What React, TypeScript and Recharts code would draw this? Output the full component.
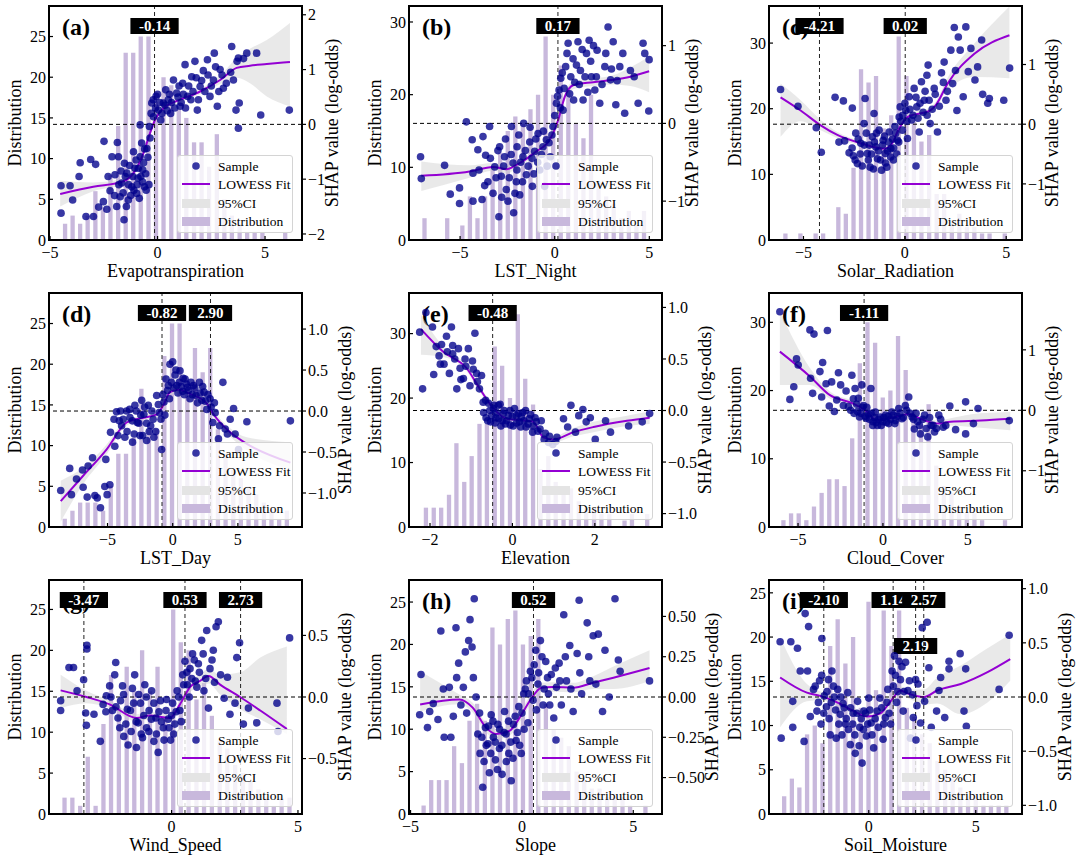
import React from 'react';
import { ComposedChart, Bar, Scatter, Line, Area, XAxis, YAxis, ReferenceLine } from 'recharts';

const FONT = '"Liberation Serif", "Times New Roman", serif';
const BAR = '#c8b8dc';
const DOT = '#00008B';
const FIT = '#9400D3';

// (a) Evapotranspiration
const aBins = [-4.32, -3.97, -3.62, -3.27, -2.91, -2.56, -2.21, -1.85, -1.5, -1.15, -0.8, -0.44, -0.09, 0.26, 0.62, 0.97, 1.32, 1.68, 2.03, 2.38, 2.74, 3.09, 3.44, 3.8, 4.15, 4.5, 4.86, 5.21, 5.56, 5.92];
const aCounts = [2, 3, 2, 3, 6, 4, 8, 14, 23, 23, 25, 25, 17, 20, 19, 16, 15, 12, 12, 9, 13, 5, 3, 2, 1, 1, 1, 0, 0, 1];
const aFit = [[-4.53, -1.27, -1.5, -1.03], [-2.99, -1.14, -1.22, -1.06], [-1.59, -1.04, -1.09, -0.99], [-1.12, -0.89, -0.94, -0.84], [-0.66, -0.53, -0.58, -0.48], [-0.35, -0.16, -0.21, -0.11], [-0.12, 0.08, 0.03, 0.13], [0.27, 0.29, 0.25, 0.33], [1.05, 0.45, 0.41, 0.49], [1.98, 0.6, 0.55, 0.65], [2.91, 0.81, 0.73, 0.89], [3.68, 1.03, 0.85, 1.21], [4.3, 1.07, 0.75, 1.38], [5.08, 1.1, 0.51, 1.54], [6.16, 1.14, 0.33, 1.85]];
const aSample = [[-4.49, -1.62], [-4.49, -1.12], [-4.07, -1.12], [-3.95, -1.38], [-3.65, -0.95], [-3.6, -0.7], [-3.33, -1.68], [-3.11, -0.64], [-2.88, -0.73], [-2.98, -1.68], [-2.74, -1.51], [-2.52, -1.41], [-2.36, -1.55], [-2.21, -1.21], [-2.49, -0.31], [-2.12, -0.59], [-1.87, -0.33], [-1.82, -0.59], [-1.98, -0.92], [-1.9, -1.5], [-1.74, -1.32], [-1.67, -1.07], [-1.54, -0.71], [-1.43, -0.89], [-1.36, -1.38], [-1.56, -1.74], [-1.2, -1.14], [-1.12, -0.5], [-1.05, -0.8], [-0.97, -1.26], [-0.91, -0.98], [-0.81, -0.59], [-0.74, -0.34], [-0.69, -0.83], [-0.61, -1.14], [-0.53, -1.2], [-0.81, -0.01], [-0.5, -0.44], [-0.38, -0.04], [-0.27, 0.39], [-0.19, 0.14], [-0.07, 0.51], [0.04, 0.26], [0.15, 0.08], [0.27, 0.39], [0.38, 0.63], [0.5, 0.45], [0.61, 0.2], [0.74, 0.81], [0.89, 0.57], [1.05, 0.33], [1.17, 0.75], [1.28, 1.09], [1.4, 0.51], [1.59, 0.87], [1.74, 1.15], [1.85, 0.26], [1.98, 0.69], [2.13, 0.98], [2.32, 1.18], [2.44, 0.51], [2.6, 0.81], [2.64, 1.3], [2.78, 0.33], [2.91, 1.0], [3.06, 0.66], [3.45, 1.42], [3.53, 0.81], [3.65, 0.26], [3.76, -0.07], [3.76, 1.21], [4.15, 1.3], [3.8, 0.39], [4.61, 1.3], [4.8, 0.17], [6.13, 0.26],
  [-2.3, -0.95], [-2.0, -1.3], [-1.8, -1.1], [-1.7, -0.85], [-1.6, -1.25], [-1.5, -0.95], [-1.45, -1.5], [-1.35, -1.1], [-1.3, -0.75], [-1.25, -1.3], [-1.15, -0.95], [-1.1, -1.2], [-1.0, -0.65], [-0.95, -1.1], [-0.9, -0.8], [-0.85, -1.35], [-0.78, -0.95], [-0.7, -1.05], [-0.65, -0.7], [-0.6, -0.45], [-0.55, -0.9], [-0.45, -0.6], [-0.4, -1.1], [-0.35, -0.25], [-0.3, 0.2], [-0.2, 0.45], [-0.1, 0.3], [0.0, 0.55], [0.1, 0.4], [0.2, 0.2], [0.35, 0.35], [0.45, 0.25], [0.55, 0.55], [0.65, 0.4], [0.8, 0.3], [0.95, 0.5], [1.0, 0.7], [1.1, 0.4], [1.2, 0.55], [1.3, 0.3], [1.45, 0.7], [1.55, 0.45], [1.65, 0.6], [1.8, 0.85], [1.9, 0.45], [2.05, 0.8], [2.2, 0.6], [2.35, 0.9], [2.5, 0.7], [2.7, 1.05], [2.85, 0.6], [3.0, 0.9], [3.2, 0.75], [3.4, 0.95], [3.7, 1.15], [4.0, 1.2]];

// (b) LST_Night
const bBins = [-6.9, -6.5, -6.1, -5.7, -5.3, -4.9, -4.5, -4.1, -3.7, -3.3, -2.9, -2.5, -2.1, -1.7, -1.3, -0.9, -0.5, -0.1, 0.3, 0.7, 1.1, 1.5, 1.9, 2.3, 2.7, 3.1, 3.5, 3.9, 4.3, 4.7];
const bCounts = [3, 0, 0, 3, 0, 2, 6, 3, 6, 10, 12, 15, 17, 16, 18, 20, 28, 20, 24, 21, 16, 14, 20, 8, 6, 5, 3, 4, 2, 4];
const bFit = [[-7.05, -0.675, -0.87, -0.49], [-4.5, -0.62, -0.7, -0.54], [-3.26, -0.56, -0.61, -0.51], [-2.56, -0.59, -0.64, -0.54], [-1.85, -0.51, -0.55, -0.47], [-0.97, -0.36, -0.4, -0.32], [-0.26, -0.21, -0.26, -0.16], [0.18, 0.04, -0.01, 0.09], [0.53, 0.34, 0.29, 0.39], [0.97, 0.49, 0.44, 0.54], [2.03, 0.53, 0.48, 0.58], [3.09, 0.56, 0.5, 0.62], [4.0, 0.6, 0.48, 0.72], [4.99, 0.67, 0.4, 0.86]];
const bSample = [[-7.09, -0.43], [-7.05, -0.71], [-5.82, -0.54], [-5.52, -0.91], [-5.03, -0.83], [-5.03, -1.03], [-4.67, 0.02], [-4.36, -0.21], [-4.32, -0.64], [-4.32, -1.0], [-4.06, -0.34], [-3.79, -0.17], [-3.84, -0.98], [-3.65, -0.41], [-3.53, -0.75], [-3.44, -0.04], [-3.26, -0.9], [-3.17, -0.56], [-2.95, -1.2], [-2.91, -0.3], [-2.82, -0.68], [-2.65, -0.43], [-2.56, -0.85], [-2.47, -1.0], [-2.29, -0.04], [-2.2, -0.51], [-2.17, -1.15], [-2.03, -0.75], [-1.99, -0.3], [-1.85, -0.92], [-1.68, -0.43], [-1.64, 0.0], [-1.5, -0.66], [-1.32, -0.24], [-1.18, -0.81], [-1.06, -0.36], [-0.88, -0.13], [-0.79, -0.6], [-0.62, -0.3], [-0.53, -0.81], [-0.44, -0.21], [-0.23, -0.43], [-0.09, -0.04], [0.09, 0.26], [0.23, 0.43], [0.32, 0.58], [0.44, 0.17], [0.58, 0.73], [0.71, 1.03], [0.79, 0.38], [0.97, 0.83], [1.06, 0.53], [1.23, 1.05], [1.36, 0.68], [1.5, 0.3], [1.68, 0.9], [1.82, 1.07], [1.94, 0.6], [2.12, 0.43], [2.24, 0.94], [2.38, 0.26], [2.65, 0.73], [2.82, 1.24], [2.95, 0.56], [3.09, 1.05], [3.23, 0.24], [3.44, 0.73], [3.7, 0.13], [4.0, 0.68], [4.41, 0.26], [4.67, 1.03], [4.76, 0.9], [4.97, 0.16], [4.99, 0.82],
  [-4.0, -0.6], [-3.7, -0.8], [-3.4, -0.45], [-3.1, -0.7], [-3.0, -0.35], [-2.8, -0.95], [-2.7, -0.55], [-2.6, -0.2], [-2.4, -0.7], [-2.3, -0.4], [-2.1, -0.9], [-2.0, -0.6], [-1.9, -0.15], [-1.8, -0.5], [-1.7, -0.75], [-1.55, -0.35], [-1.4, -0.55], [-1.3, -0.05], [-1.2, -0.45], [-1.1, -0.65], [-1.0, -0.2], [-0.9, -0.5], [-0.7, -0.4], [-0.6, -0.1], [-0.4, -0.55], [-0.3, -0.25], [-0.15, -0.15], [0.0, 0.1], [0.15, 0.35], [0.3, 0.2], [0.4, 0.65], [0.5, 0.45], [0.65, 0.9], [0.85, 0.6], [1.0, 0.3], [1.15, 0.75], [1.3, 0.5], [1.45, 0.95], [1.6, 0.6], [1.75, 0.4], [1.9, 0.8], [2.05, 1.0], [2.2, 0.6], [2.5, 0.5], [2.7, 0.9], [3.0, 0.7], [3.3, 0.55], [3.6, 0.9], [4.2, 0.6]];

// (c) Solar_Radiation
const cBins = [-5.91, -5.54, -5.17, -4.79, -4.42, -4.05, -3.67, -3.3, -2.93, -2.55, -2.18, -1.81, -1.44, -1.06, -0.69, -0.32, 0.06, 0.43, 0.8, 1.18, 1.55, 1.92, 2.3, 2.67, 3.04, 3.41, 3.79, 4.16, 4.53, 4.91];
const cCounts = [1, 0, 1, 0, 1, 1, 0, 5, 4, 11, 26, 24, 25, 17, 19, 31, 25, 18, 15, 16, 7, 7, 3, 4, 2, 2, 1, 1, 0, 1];
const cFit = [[-6.13, 0.45, -0.21, 0.68], [-5.14, 0.23, 0.05, 0.4], [-4.15, -0.02, -0.1, 0.07], [-3.33, -0.18, -0.23, -0.13], [-2.17, -0.32, -0.36, -0.28], [-1.02, -0.41, -0.45, -0.37], [-0.69, -0.35, -0.39, -0.31], [-0.28, -0.07, -0.12, -0.02], [0.13, 0.12, 0.07, 0.17], [1.25, 0.23, 0.18, 0.28], [1.53, 0.32, 0.26, 0.38], [2.11, 0.68, 0.58, 0.78], [3.43, 1.18, 0.79, 1.35], [5.16, 1.49, 0.77, 1.97]];
const cSample = [[-6.13, 0.58], [-5.27, 0.3], [-4.37, -0.06], [-4.12, -0.47], [-3.44, 0.45], [-3.25, -0.3], [-3.03, 0.39], [-2.97, -0.28], [-2.75, -0.48], [-2.59, 0.27], [-2.54, -0.53], [-2.42, -0.15], [-2.34, -0.66], [-2.17, -0.32], [-2.01, 0.01], [-1.96, 0.43], [-1.85, -0.49], [-1.71, -0.72], [-1.6, -0.21], [-1.52, 0.18], [-1.43, -0.38], [-1.35, -0.58], [-1.27, -0.1], [-1.15, -0.77], [-1.07, -0.27], [-0.97, -0.49], [-0.89, -0.72], [-0.77, -0.13], [-0.69, -0.41], [-0.56, -0.6], [-0.49, -0.04], [-0.36, -0.27], [-0.28, 0.12], [-0.23, 0.29], [-0.12, -0.1], [0.05, 0.23], [0.13, -0.24], [0.21, 0.46], [0.33, 0.07], [0.46, 0.6], [0.59, 0.29], [0.71, -0.13], [0.82, 0.71], [0.96, 0.4], [1.09, 0.82], [1.15, 0.99], [1.25, 0.01], [1.45, 0.6], [1.61, -0.13], [1.81, 0.86], [1.94, 1.04], [2.03, 0.4], [2.27, 1.24], [2.36, 0.68], [2.44, 1.62], [2.57, 0.23], [2.64, 1.46], [2.73, 1.24], [2.88, 0.46], [3.01, 1.63], [3.13, 0.88], [3.26, 1.27], [3.46, 0.74], [3.59, 0.96], [3.79, 1.41], [3.84, 0.5], [4.09, 0.35], [4.17, 0.43], [4.88, 0.4], [5.17, 0.94],
  [-2.6, -0.4], [-2.45, -0.6], [-2.3, -0.25], [-2.2, -0.5], [-2.1, -0.7], [-2.0, -0.35], [-1.9, -0.15], [-1.8, -0.6], [-1.75, -0.35], [-1.65, -0.5], [-1.55, -0.75], [-1.5, -0.3], [-1.4, -0.15], [-1.3, -0.45], [-1.2, -0.6], [-1.1, -0.35], [-1.0, -0.2], [-0.95, -0.65], [-0.85, -0.45], [-0.8, -0.3], [-0.7, -0.55], [-0.6, -0.25], [-0.55, -0.4], [-0.45, -0.15], [-0.4, -0.5], [-0.3, -0.3], [-0.2, 0.05], [-0.1, 0.15], [0.0, 0.35], [0.1, 0.05], [0.25, 0.25], [0.4, 0.15], [0.55, 0.45], [0.65, 0.1], [0.75, 0.35], [0.9, 0.2], [1.0, 0.55], [1.1, 0.15], [1.2, 0.4], [1.35, 0.25], [1.5, 0.5], [1.7, 0.3], [1.9, 0.7], [2.1, 0.55], [2.5, 0.9]];

// (d) LST_Day
const dBins = [-8.31, -7.72, -7.13, -6.55, -5.96, -5.37, -4.78, -4.2, -3.61, -3.02, -2.43, -1.85, -1.26, -0.67, -0.08, 0.5, 1.09, 1.68, 2.27, 2.85, 3.44, 4.03, 4.62, 5.2, 5.79, 6.38, 6.97, 7.55, 8.14, 8.73];
const dCounts = [1, 2, 3, 3, 3, 2, 5, 9, 9, 11, 17, 12, 12, 21, 25, 25, 17, 22, 19, 22, 12, 9, 7, 6, 5, 4, 3, 2, 1, 2];
const dFit = [[-8.59, -1.1, -1.35, -0.85], [-6.87, -0.79, -0.89, -0.69], [-5.08, -0.47, -0.53, -0.41], [-3.54, -0.14, -0.18, -0.1], [-2.51, -0.09, -0.12, -0.06], [-1.23, -0.04, -0.07, -0.01], [-0.72, 0.07, 0.04, 0.1], [-0.21, 0.23, 0.2, 0.26], [0.44, 0.26, 0.23, 0.29], [1.33, 0.21, 0.18, 0.24], [2.62, 0.09, 0.06, 0.12], [3.13, -0.04, -0.08, 0.0], [4.41, -0.26, -0.31, -0.21], [5.69, -0.4, -0.48, -0.32], [9.03, -0.63, -0.72, -0.38]];
const dSample = [[-8.59, -0.97], [-7.9, -0.7], [-7.77, -1.02], [-7.38, -0.83], [-6.92, -0.72], [-6.87, -0.93], [-6.56, -1.05], [-6.49, -0.67], [-6.15, -0.57], [-5.97, -1.03], [-5.79, -1.06], [-5.54, -1.18], [-5.21, -0.92], [-5.13, -0.59], [-5.03, -1.02], [-4.82, -0.9], [-4.77, -0.26], [-4.44, -0.43], [-4.31, -0.01], [-4.1, -0.12], [-3.92, -0.18], [-3.67, -0.32], [-3.54, 0.0], [-3.28, -0.08], [-3.08, -0.38], [-2.9, 0.07], [-2.72, -0.14], [-2.51, -0.3], [-2.38, 0.13], [-2.21, -0.04], [-2.0, -0.36], [-1.87, 0.07], [-1.69, -0.18], [-1.44, -0.32], [-1.23, 0.19], [-1.03, -0.02], [-0.85, -0.47], [-0.67, 0.11], [-0.51, 0.39], [-0.33, 0.31], [-0.21, 0.57], [0.0, 0.6], [0.18, 0.44], [0.31, 0.31], [0.56, 0.49], [0.77, 0.24], [0.95, 0.39], [1.13, 0.29], [1.33, 0.15], [1.59, 0.31], [1.79, 0.19], [2.05, 0.35], [2.23, 0.13], [2.41, 0.23], [2.62, 0.02], [2.87, 0.15], [3.08, -0.14], [3.26, -0.02], [3.51, -0.34], [3.85, 0.35], [4.03, -0.22], [4.41, -0.1], [4.67, 0.03], [4.79, -0.28], [5.05, -0.47], [5.69, -0.13], [9.03, -0.12],
  [-4.5, -0.1], [-4.2, -0.3], [-4.0, 0.0], [-3.8, -0.1], [-3.5, -0.25], [-3.3, 0.02], [-3.1, -0.12], [-2.95, -0.28], [-2.8, 0.0], [-2.6, -0.15], [-2.45, -0.05], [-2.3, -0.3], [-2.15, 0.05], [-2.0, -0.15], [-1.8, -0.25], [-1.6, 0.0], [-1.5, -0.1], [-1.3, -0.25], [-1.1, 0.08], [-0.9, -0.1], [-0.75, 0.2], [-0.6, -0.05], [-0.4, 0.25], [-0.25, 0.15], [-0.1, 0.35], [0.1, 0.28], [0.25, 0.5], [0.4, 0.22], [0.5, 0.35], [0.65, 0.3], [0.8, 0.4], [0.9, 0.2], [1.05, 0.33], [1.2, 0.25], [1.4, 0.35], [1.5, 0.2], [1.7, 0.28], [1.9, 0.1], [2.1, 0.22], [2.3, 0.3], [2.5, 0.12], [2.7, 0.2], [2.95, 0.05], [3.2, 0.1], [3.6, -0.18], [4.2, -0.28]];

// (e) Elevation
const eBins = [-2.11, -1.92, -1.74, -1.55, -1.37, -1.18, -1.0, -0.81, -0.63, -0.44, -0.26, -0.07, 0.12, 0.3, 0.49, 0.67, 0.86, 1.04, 1.23, 1.41, 1.6, 1.78, 1.97, 2.15, 2.34, 2.52, 2.71, 2.89, 3.08, 3.26];
const eCounts = [3, 3, 3, 5, 13, 7, 11, 16, 16, 28, 25, 20, 33, 23, 19, 9, 11, 7, 5, 6, 4, 3, 3, 2, 2, 0, 1, 2, 0, 2];
const eFit = [[-2.22, 0.79, 0.54, 0.93], [-1.68, 0.57, 0.52, 0.62], [-1.11, 0.41, 0.38, 0.44], [-0.79, 0.21, 0.18, 0.24], [-0.46, 0.02, 0.0, 0.04], [-0.14, -0.08, -0.1, -0.06], [0.35, -0.1, -0.12, -0.08], [0.51, -0.11, -0.13, -0.09], [0.75, -0.26, -0.29, -0.23], [1.0, -0.28, -0.31, -0.25], [1.48, -0.21, -0.25, -0.17], [1.97, -0.16, -0.21, -0.11], [2.78, -0.1, -0.15, -0.05], [3.33, -0.07, -0.13, -0.01]];
const eSample = [[-2.25, 0.76], [-2.18, 0.21], [-2.1, 0.95], [-1.94, 0.81], [-1.91, 0.35], [-1.78, 0.53], [-1.72, 0.64], [-1.66, 0.45], [-1.58, 0.57], [-1.53, 0.36], [-1.48, 0.81], [-1.45, 0.63], [-1.4, 0.5], [-1.35, 0.21], [-1.31, 0.6], [-1.27, 0.41], [-1.19, 0.31], [-1.13, 0.43], [-1.07, 0.6], [-1.03, 0.24], [-0.97, 0.48], [-0.91, 0.75], [-0.87, 0.36], [-0.8, 0.21], [-0.75, 0.34], [-0.71, 0.08], [-0.64, -0.07], [-0.58, 0.07], [-0.53, -0.11], [-0.46, 0.02], [-0.4, -0.07], [-0.34, 0.05], [-0.28, -0.15], [-0.22, -0.03], [-0.14, -0.1], [-0.06, 0.0], [0.02, -0.15], [0.09, -0.05], [0.17, -0.11], [0.25, -0.02], [0.33, -0.16], [0.41, -0.08], [0.49, -0.21], [0.58, -0.11], [0.67, -0.18], [0.77, -0.28], [0.88, -0.31], [0.98, -0.33], [1.08, -0.26], [1.24, -0.08], [1.34, -0.16], [1.42, 0.05], [1.53, -0.21], [1.61, -0.05], [1.71, 0.01], [1.79, -0.11], [1.89, -0.07], [2.01, -0.28], [2.26, -0.1], [2.38, -0.21], [2.82, -0.15], [3.15, -0.11], [3.33, -0.03],
  [-0.7, -0.02], [-0.65, 0.1], [-0.6, -0.1], [-0.55, 0.0], [-0.5, -0.05], [-0.45, 0.05], [-0.42, -0.12], [-0.38, -0.02], [-0.33, -0.08], [-0.3, 0.06], [-0.25, -0.1], [-0.2, 0.0], [-0.17, -0.13], [-0.1, -0.05], [-0.05, -0.14], [0.0, -0.06], [0.05, 0.02], [0.1, -0.12], [0.15, -0.03], [0.2, -0.16], [0.22, -0.06], [0.28, -0.1], [0.32, 0.0], [0.38, -0.13], [0.44, -0.04], [0.5, -0.15], [0.55, -0.07], [0.62, -0.2], [0.7, -0.1], [0.8, -0.22], [0.9, -0.25], [1.05, -0.3], [-0.85, 0.28], [-0.95, 0.4], [-1.15, 0.5], [-1.25, 0.3], [-1.45, 0.55], [-1.6, 0.72], [-1.75, 0.45], [-1.85, 0.62]];

// (f) Cloud_Cover
const fBins = [-5.88, -5.43, -4.98, -4.53, -4.08, -3.63, -3.18, -2.73, -2.28, -1.83, -1.38, -0.93, -0.48, -0.03, 0.42, 0.87, 1.32, 1.77, 2.22, 2.67, 3.12, 3.57, 4.02, 4.47, 4.92, 5.37, 5.82, 6.27, 6.72, 7.17];
const fCounts = [1, 2, 2, 1, 3, 5, 7, 7, 6, 13, 24, 30, 27, 19, 20, 28, 23, 17, 15, 18, 9, 6, 5, 3, 2, 2, 1, 0, 0, 1];
const fFit = [[-6.07, 0.97, 0.42, 1.64], [-4.3, 0.56, 0.42, 0.7], [-3.12, 0.25, 0.19, 0.31], [-1.74, 0.11, 0.07, 0.15], [-0.95, -0.02, -0.05, 0.01], [-0.36, -0.17, -0.2, -0.14], [0.24, -0.14, -0.17, -0.11], [1.03, -0.09, -0.12, -0.06], [1.52, -0.06, -0.09, -0.03], [2.21, -0.14, -0.18, -0.1], [3.2, -0.22, -0.27, -0.17], [3.98, -0.19, -0.25, -0.13], [5.76, -0.17, -0.29, -0.05], [7.5, -0.14, -0.33, -0.03]];
const fSample = [[-6.07, 1.63], [-5.48, 0.18], [-5.25, 0.39], [-5.09, 0.85], [-4.99, 0.75], [-4.26, 0.53], [-4.14, 0.28], [-4.06, 1.26], [-4.3, 1.33], [-3.71, 0.64], [-3.61, 0.22], [-3.55, 0.79], [-3.35, 0.44], [-3.27, 1.32], [-3.16, 0.07], [-3.02, 0.47], [-2.86, -0.02], [-2.72, 0.17], [-2.62, 0.62], [-2.49, 0.42], [-2.33, 0.08], [-2.17, 0.32], [-2.03, 0.06], [-1.83, 0.58], [-1.74, 0.19], [-1.64, 0.36], [-1.5, -0.02], [-1.38, -0.11], [-1.24, 0.42], [-1.14, 0.08], [-0.99, -0.13], [-0.85, -0.06], [-0.71, 0.36], [-0.59, -0.19], [-0.45, -0.03], [-0.32, -0.25], [-0.16, -0.11], [0.0, -0.19], [0.16, -0.08], [0.34, -0.22], [0.53, -0.03], [0.73, -0.17], [0.93, 0.03], [1.12, -0.14], [1.32, 0.08], [1.52, 0.22], [1.72, -0.11], [1.85, -0.31], [2.05, -0.19], [2.21, -0.39], [2.45, -0.08], [2.64, -0.44], [2.84, -0.25], [3.04, -0.36], [3.29, -0.08], [3.55, -0.28], [3.94, 0.07], [4.28, -0.32], [4.87, -0.39], [4.87, 0.14], [5.33, -0.22], [5.6, 0.03], [7.44, -0.17],
  [-1.9, 0.0], [-1.7, -0.05], [-1.55, 0.1], [-1.45, 0.2], [-1.3, -0.05], [-1.2, 0.05], [-1.05, -0.1], [-0.95, 0.05], [-0.8, -0.15], [-0.7, -0.05], [-0.6, -0.25], [-0.5, -0.12], [-0.4, -0.2], [-0.25, -0.15], [-0.1, -0.25], [0.05, -0.12], [0.2, -0.2], [0.3, -0.1], [0.45, -0.15], [0.6, -0.08], [0.7, -0.22], [0.85, -0.1], [1.0, -0.05], [1.2, -0.12], [1.4, 0.0], [1.6, -0.05], [1.8, -0.15], [1.95, -0.05], [2.15, -0.25], [2.35, -0.15], [2.55, -0.3], [2.75, -0.12], [2.95, -0.25], [3.15, -0.3], [3.4, -0.15], [3.7, -0.25]];

// (g) Wind_Speed
const gBins = [-4.25, -3.94, -3.63, -3.33, -3.02, -2.71, -2.41, -2.1, -1.79, -1.49, -1.18, -0.87, -0.57, -0.26, 0.05, 0.35, 0.66, 0.97, 1.27, 1.58, 1.89, 2.19, 2.5, 2.81, 3.11, 3.42, 3.73, 4.03, 4.34, 4.65];
const gCounts = [2, 2, 1, 7, 1, 11, 17, 13, 18, 15, 20, 15, 18, 12, 25, 21, 20, 14, 16, 12, 9, 8, 6, 5, 4, 3, 2, 1, 2, 2];
const gFit = [[-4.39, 0.054, -0.09, 0.18], [-3.37, 0.0, -0.05, 0.05], [-2.45, -0.06, -0.09, -0.03], [-1.39, -0.17, -0.2, -0.14], [-0.86, -0.15, -0.18, -0.12], [-0.07, -0.17, -0.2, -0.14], [0.33, -0.06, -0.09, -0.03], [0.73, 0.08, 0.04, 0.12], [1.12, 0.13, 0.08, 0.18], [1.46, 0.17, 0.11, 0.23], [1.92, 0.1, 0.02, 0.18], [2.71, 0.0, -0.1, 0.2], [3.51, -0.11, -0.18, 0.32], [4.56, -0.26, -0.3, 0.41]];
const gSample = [[-4.39, -0.03], [-4.39, -0.11], [-4.06, 0.24], [-3.88, 0.24], [-3.74, 0.05], [-3.48, 0.14], [-3.35, 0.42], [-3.35, 0.39], [-3.4, -0.13], [-3.37, -0.23], [-3.07, -0.14], [-2.82, -0.36], [-2.71, -0.06], [-2.58, 0.01], [-2.45, 0.09], [-2.34, -0.11], [-2.25, 0.18], [-2.21, 0.28], [-2.12, -0.17], [-2.02, -0.03], [-1.94, 0.09], [-1.89, -0.32], [-1.81, -0.22], [-1.72, -0.39], [-1.63, -0.11], [-1.55, 0.07], [-1.46, 0.18], [-1.39, -0.41], [-1.32, -0.21], [-1.23, -0.05], [-1.15, -0.33], [-1.06, 0.1], [-0.99, -0.25], [-0.89, -0.11], [-0.79, 0.05], [-0.7, -0.36], [-0.62, -0.17], [-0.53, -0.45], [-0.44, -0.03], [-0.33, -0.25], [-0.22, -0.11], [-0.13, -0.18], [-0.04, -0.35], [0.04, -0.05], [0.13, -0.22], [0.22, 0.05], [0.33, -0.11], [0.44, 0.18], [0.53, 0.29], [0.62, 0.1], [0.73, 0.23], [0.83, 0.35], [0.94, 0.13], [1.06, 0.27], [1.19, 0.46], [1.28, 0.05], [1.39, 0.54], [1.46, -0.09], [1.52, 0.23], [1.65, 0.38], [1.76, 0.57], [1.85, 0.61], [1.94, 0.18], [2.08, -0.01], [2.21, 0.16], [2.31, -0.14], [2.51, -0.05], [2.58, 0.32], [2.69, 0.44], [2.84, -0.22], [3.04, -0.09], [3.37, -0.21], [4.17, -0.05], [4.21, -0.28], [4.67, 0.48],
  [-2.6, -0.12], [-2.4, 0.0], [-2.2, -0.08], [-2.05, -0.25], [-1.9, 0.02], [-1.75, -0.1], [-1.6, -0.28], [-1.5, -0.05], [-1.4, -0.2], [-1.3, 0.02], [-1.2, -0.3], [-1.1, -0.15], [-1.0, 0.0], [-0.9, -0.28], [-0.8, -0.18], [-0.7, -0.05], [-0.6, -0.3], [-0.5, -0.12], [-0.4, -0.2], [-0.3, -0.35], [-0.2, -0.02], [-0.1, -0.25], [0.0, -0.15], [0.08, -0.3], [0.18, -0.12], [0.28, 0.0], [0.38, -0.2], [0.48, 0.1], [0.6, 0.2], [0.7, 0.0], [0.8, 0.15], [0.9, 0.3], [1.0, 0.08], [1.1, 0.2], [1.25, 0.35], [1.35, 0.15], [1.6, 0.3], [1.7, 0.12]];

// (h) Slope
const hBins = [-4.43, -4.09, -3.74, -3.4, -3.06, -2.71, -2.37, -2.03, -1.68, -1.34, -1.0, -0.65, -0.31, 0.03, 0.38, 0.72, 1.06, 1.41, 1.75, 2.09, 2.44, 2.78, 3.12, 3.47, 3.81, 4.15, 4.5, 4.84, 5.18, 5.53];
const hCounts = [1, 4, 4, 4, 8, 6, 11, 13, 11, 22, 20, 23, 24, 20, 21, 23, 13, 10, 9, 8, 5, 4, 3, 3, 2, 2, 2, 1, 0, 1];
const hFit = [[-4.57, -0.046, -0.09, 0.16], [-2.81, -0.015, -0.045, 0.015], [-2.21, -0.066, -0.096, -0.036], [-1.61, -0.19, -0.22, -0.16], [-1.16, -0.23, -0.26, -0.2], [-0.56, -0.21, -0.24, -0.18], [-0.11, -0.13, -0.16, -0.1], [0.35, -0.025, -0.055, 0.005], [0.87, 0.058, 0.028, 0.088], [1.4, 0.062, 0.032, 0.092], [2.3, 0.058, 0.028, 0.088], [3.2, 0.089, 0.049, 0.129], [4.11, 0.12, 0.05, 0.19], [5.73, 0.18, 0.1, 0.29]];
const hSample = [[-4.59, -0.11], [-4.53, 0.14], [-4.24, -0.19], [-4.14, -0.09], [-3.98, -0.04], [-3.77, -0.14], [-3.64, 0.41], [-3.53, 0.05], [-3.49, -0.25], [-3.26, 0.06], [-3.19, -0.25], [-3.08, -0.12], [-2.96, 0.43], [-2.93, 0.12], [-2.84, 0.21], [-2.74, -0.05], [-2.63, 0.06], [-2.54, 0.28], [-2.48, -0.1], [-2.39, 0.35], [-2.33, 0.48], [-2.24, 0.31], [-2.18, 0.12], [-2.14, 0.61], [-2.06, 0.0], [-1.98, -0.23], [-1.88, -0.35], [-1.76, -0.56], [-1.64, -0.19], [-1.53, -0.29], [-1.46, -0.47], [-1.38, -0.11], [-1.28, -0.25], [-1.19, -0.39], [-1.08, -0.17], [-1.01, -0.32], [-0.89, -0.48], [-0.78, -0.09], [-0.71, -0.23], [-0.59, -0.35], [-0.48, -0.52], [-0.38, -0.17], [-0.26, -0.27], [-0.14, -0.06], [-0.03, -0.35], [0.08, 0.02], [0.2, 0.1], [0.27, -0.16], [0.38, 0.16], [0.5, -0.02], [0.62, 0.29], [0.72, 0.08], [0.83, 0.35], [0.95, -0.05], [1.07, 0.22], [1.19, 0.02], [1.32, 0.14], [1.43, -0.13], [1.55, 0.06], [1.67, 0.21], [1.77, -0.05], [1.88, 0.51], [2.0, 0.1], [2.15, 0.32], [2.3, -0.09], [2.48, 0.27], [2.57, 0.6], [2.68, 0.02], [2.93, 0.46], [3.05, 0.1], [3.2, 0.38], [3.32, 0.08], [3.43, 0.39], [3.62, -0.09], [3.73, 0.29], [3.92, 0.0], [4.18, 0.61], [4.33, 0.23], [4.41, 0.16], [5.73, 0.1],
  [-1.9, -0.1], [-1.8, -0.25], [-1.7, -0.4], [-1.6, -0.3], [-1.5, -0.18], [-1.4, -0.35], [-1.3, -0.15], [-1.2, -0.28], [-1.1, -0.45], [-1.0, -0.2], [-0.9, -0.3], [-0.8, -0.22], [-0.7, -0.4], [-0.6, -0.15], [-0.5, -0.28], [-0.4, -0.38], [-0.3, -0.12], [-0.2, -0.22], [-0.1, -0.3], [0.0, -0.1], [0.1, -0.2], [0.15, 0.05], [0.3, 0.02], [0.45, 0.12], [0.55, 0.2], [0.65, -0.08], [0.75, 0.15], [0.9, 0.25], [1.0, 0.05], [1.15, 0.12], [1.25, -0.05], [1.5, 0.18], [1.7, 0.1], [1.95, 0.25], [2.2, 0.05], [2.6, 0.15], [3.0, 0.25]];

// (i) Soil_Moisture
const iBins = [-3.97, -3.61, -3.26, -2.9, -2.54, -2.18, -1.82, -1.47, -1.11, -0.75, -0.39, -0.03, 0.32, 0.68, 1.04, 1.4, 1.76, 2.11, 2.47, 2.83, 3.19, 3.55, 3.9, 4.26, 4.62, 4.98, 5.34, 5.69, 6.05, 6.41];
const iCounts = [2, 4, 3, 9, 10, 8, 19, 22, 17, 20, 12, 24, 14, 23, 19, 23, 12, 11, 9, 8, 6, 5, 4, 3, 2, 2, 1, 1, 1, 1];
const iFit = [[-4.14, 0.18, -0.28, 0.55], [-2.89, 0.04, -0.04, 0.12], [-2.27, 0.01, -0.03, 0.05], [-1.48, -0.05, -0.08, -0.02], [-0.7, -0.13, -0.16, -0.1], [-0.08, -0.18, -0.21, -0.15], [0.55, -0.15, -0.18, -0.12], [1.02, -0.04, -0.08, 0.0], [1.48, 0.06, 0.02, 0.1], [1.72, 0.04, 0.0, 0.08], [2.03, 0.02, -0.03, 0.07], [2.58, 0.0, -0.07, 0.07], [3.2, 0.06, -0.06, 0.18], [4.3, 0.12, -0.16, 0.29], [5.55, 0.23, -0.05, 0.45], [6.61, 0.35, 0.15, 0.58]];
const iSample = [[-4.14, 0.51], [-4.09, -0.38], [-3.64, 0.51], [-3.55, -0.04], [-3.55, -0.28], [-3.33, 0.45], [-3.2, 0.24], [-2.97, 0.77], [-3.02, -0.41], [-2.86, 0.24], [-2.81, 0.65], [-2.73, -0.18], [-2.58, 0.07], [-2.42, -0.13], [-2.3, 0.15], [-2.23, -0.25], [-2.19, 0.54], [-2.08, 0.01], [-1.98, -0.09], [-1.88, 0.16], [-1.8, -0.35], [-1.72, 0.24], [-1.61, 0.0], [-1.52, -0.38], [-1.45, 0.07], [-1.33, -0.16], [-1.2, -0.06], [-1.09, -0.25], [-0.98, 0.04], [-0.86, -0.44], [-0.73, -0.15], [-0.63, -0.52], [-0.52, -0.04], [-0.42, -0.28], [-0.31, -0.61], [-0.23, -0.13], [-0.11, -0.36], [0.0, -0.01], [0.11, -0.24], [0.23, -0.47], [0.39, -0.13], [0.52, -0.01], [0.67, -0.39], [0.78, -0.19], [0.89, 0.07], [1.02, -0.25], [1.09, 0.24], [1.2, 0.38], [1.3, -0.05], [1.41, 0.33], [1.48, 0.16], [1.61, -0.13], [1.72, 0.32], [1.83, 0.06], [1.95, -0.38], [2.08, -0.19], [2.19, 0.16], [2.3, 0.12], [2.42, -0.24], [2.5, 0.64], [2.61, -0.04], [2.73, 0.69], [2.81, 0.27], [2.92, -0.28], [3.17, -0.13], [3.28, 0.06], [3.36, 0.18], [3.55, -0.19], [3.75, 0.33], [3.75, 0.26], [4.27, 0.4], [4.45, -0.13], [4.53, 0.26], [4.56, -0.27], [6.09, 0.07], [6.56, 0.57],
  [-2.5, 0.1], [-2.35, -0.05], [-2.2, 0.2], [-2.1, -0.15], [-1.95, 0.05], [-1.85, -0.2], [-1.75, -0.05], [-1.65, 0.1], [-1.55, -0.12], [-1.4, -0.25], [-1.3, 0.0], [-1.25, -0.35], [-1.15, -0.1], [-1.05, -0.2], [-0.95, -0.3], [-0.85, -0.1], [-0.75, -0.25], [-0.65, -0.35], [-0.55, -0.15], [-0.45, -0.45], [-0.35, -0.2], [-0.25, -0.3], [-0.15, -0.15], [-0.05, -0.25], [0.05, -0.12], [0.15, -0.35], [0.3, -0.2], [0.45, -0.28], [0.6, -0.1], [0.7, -0.25], [0.85, -0.05], [0.95, -0.15], [1.15, 0.1], [1.25, 0.2], [1.35, 0.05], [1.55, 0.28], [1.65, 0.05], [1.9, 0.15], [2.05, 0.02], [2.25, -0.08]];

type PanelDef = {
  tag: string;
  feature: string;
  bins: number[];
  counts: number[];
  fit: number[][];
  sample: number[][];
  thresholds: number[];
  drops?: Record<string, number>;
  xDomain: [number, number];
  xTicks: number[];
  distMax: number;
  distTicks: number[];
  shapDomain: [number, number];
  shapTicks: number[];
  digits: number;
};

const ticks5 = [0, 5, 10, 15, 20, 25];
const ticks10 = [0, 10, 20, 30];

const panels: PanelDef[] = [
  { tag: '(a)', feature: 'Evapotranspiration', bins: aBins, counts: aCounts, fit: aFit, sample: aSample, thresholds: [-0.14], xDomain: [-5.05, 6.72], xTicks: [-5, 0, 5], distMax: 28.75, distTicks: ticks5, shapDomain: [-2.11, 2.16], shapTicks: [-2, -1, 0, 1, 2], digits: 0 },
  { tag: '(b)', feature: 'LST_Night', bins: bBins, counts: bCounts, fit: bFit, sample: bSample, thresholds: [0.17], xDomain: [-7.7, 5.67], xTicks: [-5, 0, 5], distMax: 32.2, distTicks: ticks10, shapDomain: [-1.5, 1.51], shapTicks: [-1, 0, 1], digits: 0 },
  { tag: '(c)', feature: 'Solar_Radiation', bins: cBins, counts: cCounts, fit: cFit, sample: cSample, thresholds: [-4.21, 0.02], xDomain: [-6.7, 5.78], xTicks: [-5, 0, 5], distMax: 35.65, distTicks: ticks10, shapDomain: [-1.94, 1.98], shapTicks: [-1, 0, 1], digits: 0 },
  { tag: '(d)', feature: 'LST_Day', bins: dBins, counts: dCounts, fit: dFit, sample: dSample, thresholds: [-0.82, 2.9], xDomain: [-9.49, 9.92], xTicks: [-5, 0, 5], distMax: 28.75, distTicks: ticks5, shapDomain: [-1.415, 1.44], shapTicks: [-1, -0.5, 0, 0.5, 1], digits: 1 },
  { tag: '(e)', feature: 'Elevation', bins: eBins, counts: eCounts, fit: eFit, sample: eSample, thresholds: [-0.48], xDomain: [-2.51, 3.63], xTicks: [-2, 0, 2], distMax: 36.3, distTicks: ticks10, shapDomain: [-1.13, 1.14], shapTicks: [-1, -0.5, 0, 0.5, 1], digits: 1 },
  { tag: '(f)', feature: 'Cloud_Cover', bins: fBins, counts: fCounts, fit: fFit, sample: fSample, thresholds: [-1.11], xDomain: [-6.71, 8.19], xTicks: [-5, 0, 5], distMax: 34.3, distTicks: ticks10, shapDomain: [-1.93, 1.94], shapTicks: [-1, 0, 1], digits: 0 },
  { tag: '(g)', feature: 'Wind_Speed', bins: gBins, counts: gCounts, fit: gFit, sample: gSample, thresholds: [-3.47, 0.53, 2.73], xDomain: [-4.85, 5.16], xTicks: [0, 5], distMax: 28.6, distTicks: ticks5, shapDomain: [-0.95, 0.95], shapTicks: [-0.5, 0, 0.5], digits: 1 },
  { tag: '(h)', feature: 'Slope', bins: hBins, counts: hCounts, fit: hFit, sample: hSample, thresholds: [0.52], xDomain: [-5.07, 6.29], xTicks: [-5, 0, 5], distMax: 27.6, distTicks: ticks5, shapDomain: [-0.726, 0.726], shapTicks: [-0.5, -0.25, 0, 0.25, 0.5], digits: 2 },
  { tag: '(i)', feature: 'Soil_Moisture', bins: iBins, counts: iCounts, fit: iFit, sample: iSample, thresholds: [-2.1, 1.14, 2.19, 2.57], drops: { '2.19': 46 }, xDomain: [-4.66, 7.16], xTicks: [0, 5], distMax: 26.45, distTicks: ticks5, shapDomain: [-1.08, 1.08], shapTicks: [-1, -0.5, 0, 0.5, 1], digits: 1 },
];

const W = 360;
const H = 287;
const PL = 49;
const PR = 302;
const PT = 6;
const PB = 240;

const fmt = (v: number, d: number) => {
  const s = Math.abs(v).toFixed(d);
  return v < -1e-9 ? '\u2212' + s : s;
};

const textW = (s: string, size: number) =>
  s.split('').reduce((acc, ch) => acc + (ch === '.' ? 0.25 : ch === '-' ? 0.333 : 0.5), 0) * size;

const Tag = (props: any) => {
  const { viewBox, text, drop } = props;
  if (!viewBox) return null;
  const w = textW(text, 15) + 17;
  const y = viewBox.y + 12 + (drop || 0);
  return (
    <g>
      <rect x={viewBox.x - w / 2} y={y} width={w} height={16} fill="#000" />
      <text x={viewBox.x} y={y + 12.5} textAnchor="middle" fill="#fff" fontWeight="bold" fontSize={15} fontFamily={FONT}>
        {text}
      </text>
    </g>
  );
};

const dot = (props: any) => <circle cx={props.cx} cy={props.cy} r={3.8} fill={DOT} fillOpacity={0.78} />;

const tickStyle = { fill: '#000', fontSize: 16, fontFamily: FONT };

function Legend() {
  return (
    <div
      style={{
        position: 'absolute', left: 177, top: 155, width: 116, height: 78, zIndex: 4,
        background: 'rgba(255,255,255,0.8)', border: '1px solid #d4d4d4', borderRadius: 3, boxSizing: 'border-box',
      }}
    >
      <svg width={116} height={78} style={{ position: 'absolute', left: -1, top: -1 }}>
        <circle cx={19} cy={11} r={3.8} fill={DOT} fillOpacity={0.78} />
        <line x1={5} x2={33} y1={29} y2={29} stroke={FIT} strokeWidth={2} />
        <rect x={5} y={44} width={28} height={9} fill="#e4e4e4" />
        <rect x={5} y={62} width={28} height={9} fill={BAR} />
        {['Sample', 'LOWESS Fit', '95%CI', 'Distribution'].map((t, i) => (
          <text key={t} x={41} y={[15.5, 33.5, 52.5, 70.5][i]} fontSize={13.5} fontFamily={FONT} fill="#000">
            {t}
          </text>
        ))}
      </svg>
    </div>
  );
}

function Panel({ p, left, top }: { p: PanelDef; left: number; top: number }) {
  const binRows = p.bins.map((x, i) => ({ x, count: p.counts[i] }));
  const fitRows = p.fit.map(([x, y, lo, hi]) => ({ x, y, ci: [lo, hi] }));
  const pts = p.sample.map(([x, y]) => ({ x, y }));
  const rightTitleX = p.digits === 0 ? 332 : p.digits === 1 ? 345 : 352;

  return (
    <div style={{ position: 'absolute', left, top, width: W, height: H }}>
      <div style={{ position: 'absolute', left: 62, top: 15, fontSize: 24, lineHeight: '24px', fontWeight: 'bold', zIndex: 0 }}>
        {p.tag}
      </div>
      {/* histogram layer */}
      <div style={{ position: 'absolute', left: 0, top: 0, zIndex: 1 }}>
        <ComposedChart width={W} height={H} data={binRows} margin={{ top: PT, right: W - PR, bottom: H - PB, left: PL }}>
          <XAxis type="number" dataKey="x" domain={p.xDomain} allowDataOverflow hide />
          <YAxis yAxisId="dist" domain={[0, p.distMax]} allowDataOverflow hide />
          <Bar yAxisId="dist" dataKey="count" fill={BAR} barSize={4.3} isAnimationActive={false} />
        </ComposedChart>
      </div>
      {/* main layer */}
      <div style={{ position: 'absolute', left: 0, top: 0, zIndex: 2 }}>
        <ComposedChart width={W} height={H} margin={{ top: PT, right: 0, bottom: 0, left: 0 }}>
          <XAxis
            type="number"
            dataKey="x"
            domain={p.xDomain}
            allowDataOverflow
            ticks={p.xTicks}
            interval={0}
            height={H - PB}
            axisLine={false}
            tickSize={-4}
            tickMargin={11}
            tickLine={{ stroke: '#000', strokeWidth: 1.2 }}
            tick={tickStyle}
            tickFormatter={(v: number) => fmt(v, 0)}
          />
          <YAxis
            yAxisId="dist"
            orientation="left"
            domain={[0, p.distMax]}
            allowDataOverflow
            ticks={p.distTicks}
            interval={0}
            width={PL}
            axisLine={false}
            tickSize={-4}
            tickMargin={7}
            tickLine={{ stroke: '#000', strokeWidth: 1.2 }}
            tick={tickStyle}
            tickFormatter={(v: number) => fmt(v, 0)}
          />
          <YAxis
            yAxisId="shap"
            orientation="right"
            domain={p.shapDomain}
            allowDataOverflow
            ticks={p.shapTicks}
            interval={0}
            width={W - PR}
            axisLine={false}
            tickSize={4}
            tickMargin={2}
            tickLine={{ stroke: '#000', strokeWidth: 1.2 }}
            tick={tickStyle}
            tickFormatter={(v: number) => fmt(v, p.digits)}
          />
          <Area
            data={fitRows}
            yAxisId="shap"
            dataKey="ci"
            type="monotone"
            stroke="none"
            fill="#cfcfcf"
            fillOpacity={0.45}
            isAnimationActive={false}
          />
          <Scatter data={pts} yAxisId="shap" dataKey="y" shape={dot} isAnimationActive={false} />
          <Line
            data={fitRows}
            yAxisId="shap"
            dataKey="y"
            type="monotone"
            stroke={FIT}
            strokeWidth={2}
            dot={false}
            isAnimationActive={false}
          />
          <ReferenceLine yAxisId="shap" y={0} stroke="#000" strokeDasharray="4 3" strokeWidth={1} />
          {p.thresholds.map((t) => (
            <ReferenceLine
              key={t}
              yAxisId="shap"
              x={t}
              stroke="#222"
              strokeDasharray="4 3"
              strokeWidth={1}
              label={(lp: any) => <Tag {...lp} text={t.toFixed(2)} drop={p.drops ? p.drops[t.toFixed(2)] : 0} />}
            />
          ))}
        </ComposedChart>
      </div>
      <div
        style={{
          position: 'absolute', left: PL - 1, top: PT - 1, width: PR - PL + 2, height: PB - PT + 2,
          border: '2px solid #000', boxSizing: 'border-box', zIndex: 3, pointerEvents: 'none',
        }}
      />
      <Legend />
      <div style={{ position: 'absolute', left: 15, top: (PT + PB) / 2, transform: 'translate(-50%,-50%) rotate(-90deg)', fontSize: 18, whiteSpace: 'nowrap', zIndex: 3 }}>
        Distribution
      </div>
      <div style={{ position: 'absolute', left: rightTitleX, top: (PT + PB) / 2, transform: 'translate(-50%,-50%) rotate(-90deg)', fontSize: 18, whiteSpace: 'nowrap', zIndex: 3 }}>
        SHAP value (log-odds)
      </div>
      <div style={{ position: 'absolute', left: PL, width: PR - PL, top: 261, lineHeight: '20px', textAlign: 'center', fontSize: 18, zIndex: 3 }}>
        {p.feature}
      </div>
    </div>
  );
}

export default function App() {
  return (
    <div style={{ position: 'absolute', left: 0, top: 0, width: 1080, height: 861, background: '#fff', fontFamily: FONT, color: '#000' }}>
      {panels.map((p, i) => (
        <Panel key={p.tag} p={p} left={(i % 3) * 360} top={Math.floor(i / 3) * 287} />
      ))}
    </div>
  );
}
